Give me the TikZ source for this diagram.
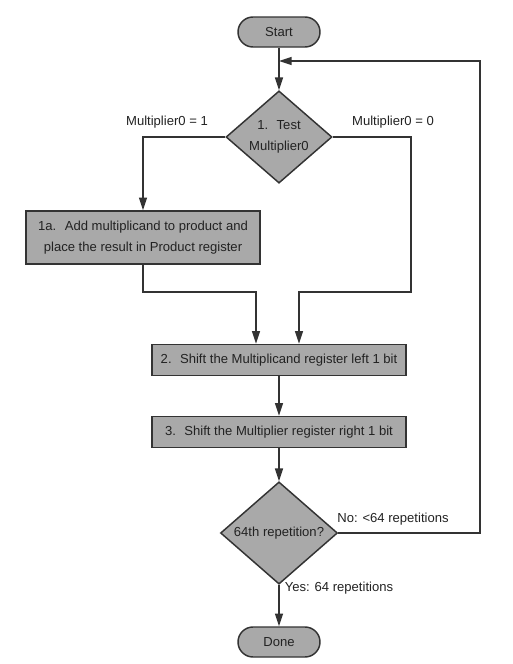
\documentclass[tikz,border=0pt]{standalone}
\usepackage{fontspec}
\setmainfont{Liberation Sans}
\usetikzlibrary{shapes.geometric,arrows.meta}
\definecolor{boxgray}{HTML}{A9A9A9}
\definecolor{linegray}{HTML}{333333}
\definecolor{textgray}{HTML}{222222}
\begin{document}
\begin{tikzpicture}[x=0.75pt,y=-0.75pt,
  font=\fontsize{9.8pt}{15.75pt}\selectfont,
  stepbox/.style={draw=linegray, fill=boxgray, line width=1.1pt, text=textgray,
    rectangle, inner sep=0pt, align=center},
  testbox/.style={stepbox, diamond},
  endbox/.style={stepbox, rounded corners=11.25pt,
    minimum width=61.5pt, minimum height=22.5pt},
  flow/.style={draw=linegray, line width=1.1pt, -{Triangle[length=9.5pt,width=6pt]}},
  cond/.style={text=textgray}]
\useasboundingbox (0,0) rectangle (512,664);

\node (start) at (279,32) [endbox] {Start};
\node (test) at (279,137) [testbox, minimum width=79.5pt, minimum height=67.5pt] {1.~ Test\\Multiplier0};
\node (add) at (143,237.5) [stepbox, minimum width=175.5pt, minimum height=39.75pt] {1a.~ Add multiplicand to product and\\place the result in Product register};
\node (shiftmc) at (279,360) [stepbox, minimum width=190.5pt, minimum height=23.25pt] {2.~ Shift the Multiplicand register left 1 bit};
\node (shiftmp) at (279,432) [stepbox, minimum width=190.5pt, minimum height=23.25pt] {3.~ Shift the Multiplier register right 1 bit};
\node (rep) at (279,533) [testbox, minimum width=87.75pt, minimum height=66.75pt] {64th repetition?};
\node (done) at (279,642) [endbox] {Done};

\node (one) at (167,122) [cond] {Multiplier0 = 1};
\node (zero) at (393,122) [cond] {Multiplier0 = 0};
\node (no) at (393,519) [cond] {No: <64 repetitions};
\node (yes) at (339,588) [cond] {Yes: 64 repetitions};

\coordinate (loopin) at (279,61);
\coordinate (loopR) at (480,61);
\coordinate (sideR) at (411,292);
\coordinate (mergeL) at (256,292);
\coordinate (mergeR) at (299,292);

\draw[flow] (start) -- (test);
\draw[flow] (test.west) -| (add.north);
\draw[flow] (add.south) |- (mergeL) -- (mergeL |- shiftmc.north);
\draw[flow] (test.east) -| (sideR) -- (mergeR) -- (mergeR |- shiftmc.north);
\draw[flow] (shiftmc) -- (shiftmp);
\draw[flow] (shiftmp) -- (rep);
\draw[flow] (rep) -- (done);
\draw[flow] (rep.east) -| (loopR) -- (loopin);
\end{tikzpicture}
\end{document}
